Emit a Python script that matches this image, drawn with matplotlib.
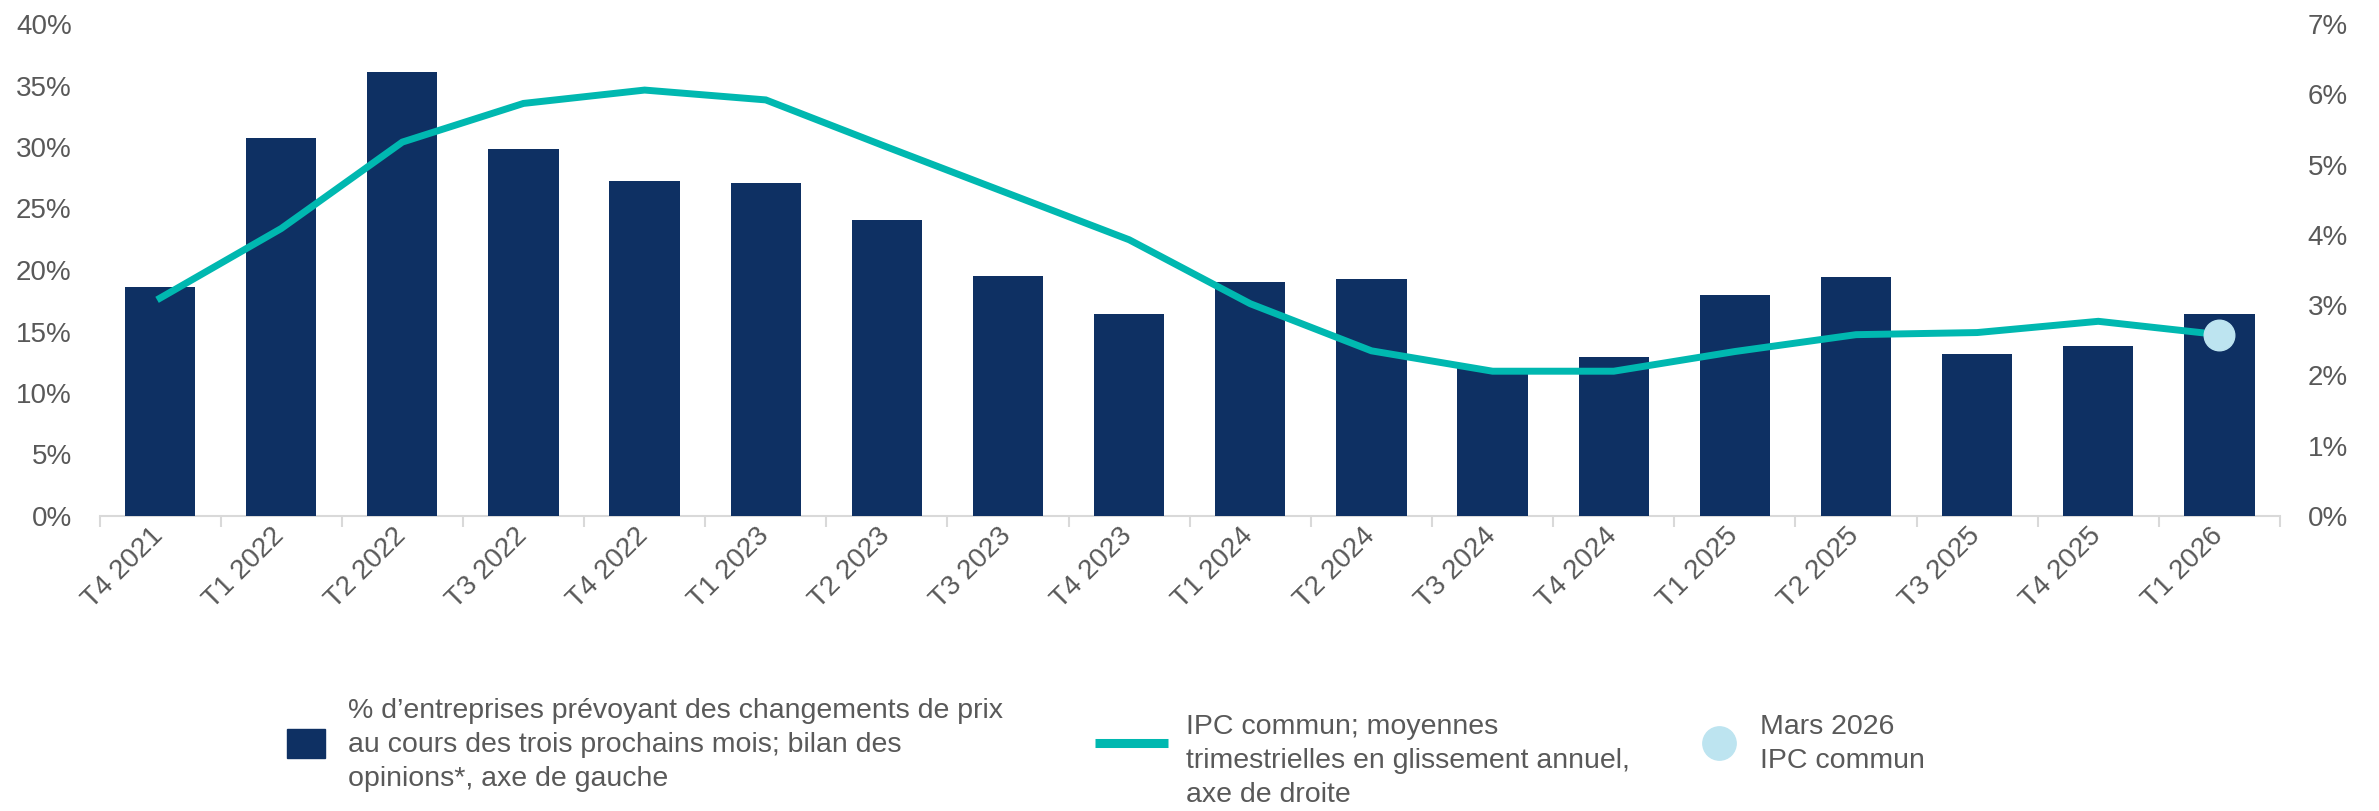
import matplotlib
matplotlib.use("Agg")
import matplotlib.pyplot as plt
import matplotlib.patches as patches
from matplotlib.lines import Line2D
from matplotlib.transforms import ScaledTranslation
from matplotlib.ticker import FuncFormatter, MultipleLocator, FixedLocator

plt.rcParams['font.family'] = ['Liberation Sans', 'DejaVu Sans']

# data
quarters = ["T4 2021", "T1 2022", "T2 2022", "T3 2022", "T4 2022", "T1 2023",
            "T2 2023", "T3 2023", "T4 2023", "T1 2024", "T2 2024", "T3 2024",
            "T4 2024", "T1 2025", "T2 2025", "T3 2025", "T4 2025", "T1 2026"]
firms_pct = [18.6, 30.7, 36.1, 29.8, 27.2, 27.1, 24.1, 19.5, 16.4, 19.0,
             19.3, 12.0, 12.9, 18.0, 19.4, 13.2, 13.8, 16.4]
ipc_pct = [3.10, 4.09, 5.32, 5.87, 6.06, 5.92, 5.25, 4.59, 3.93, 3.02,
           2.35, 2.06, 2.06, 2.34, 2.58, 2.61, 2.77, 2.58]
march_label = "T1 2026"
march_value = 2.58

NAVY = "#0e3063"
TEAL = "#00b8b0"
LIGHT = "#bde4f0"
GREY_TXT = "#595959"
AXIS_GREY = "#d9d9d9"
FS = 20
LEG_FS = 20.5

W, H = 2379, 811
fig = plt.figure(figsize=(W / 100, H / 100), dpi=100)
ax = fig.add_axes([99.5 / W, 1 - 516 / H, (2280 - 99.5) / W, (516 - 24) / H])
ax2 = ax.twinx()

x = list(range(len(quarters)))
ax.bar(x, firms_pct, width=0.58, color=NAVY, zorder=2)
ax2.plot(x, ipc_pct, color=TEAL, lw=5, solid_joinstyle='miter', zorder=3)
ax2.plot([quarters.index(march_label)], [march_value], 'o', ms=22,
         color=LIGHT, mec=LIGHT, zorder=4)

ax.set_xlim(-0.5, len(quarters) - 0.5)
ax.set_ylim(0, 40)
ax2.set_ylim(0, 7)
ax.yaxis.set_major_locator(MultipleLocator(5))
ax2.yaxis.set_major_locator(MultipleLocator(1))
pct = FuncFormatter(lambda v, p: f"{v:.0f}%")
ax.yaxis.set_major_formatter(pct)
ax2.yaxis.set_major_formatter(pct)

for a in (ax, ax2):
    for s in a.spines.values():
        s.set_visible(False)
ax.spines['bottom'].set_visible(True)
ax.spines['bottom'].set_color(AXIS_GREY)
ax.spines['bottom'].set_linewidth(1.5)
ax.spines['bottom'].set_zorder(1)

ax.tick_params(axis='y', length=0, pad=20, labelsize=FS, labelcolor=GREY_TXT)
ax2.tick_params(axis='y', length=0, pad=20, labelsize=FS, labelcolor=GREY_TXT)

ax.set_xticks(x)
ax.set_xticklabels(quarters, rotation=45, ha='right', va='top',
                   rotation_mode='anchor', fontsize=FS, color=GREY_TXT)
ax.tick_params(axis='x', which='major', length=0, pad=5)
shift = ScaledTranslation(-10 / 100, 0, fig.dpi_scale_trans)
for lab in ax.get_xticklabels():
    lab.set_transform(lab.get_transform() + shift)
ax.xaxis.set_minor_locator(FixedLocator([i - 0.5 for i in range(len(quarters) + 1)]))
ax.tick_params(axis='x', which='minor', length=8, width=1.5, color=AXIS_GREY)

# legend, drawn in figure pixels
px = lambda xx, yy: (xx / W, 1 - yy / H)
LS = 1.4
fig.add_artist(patches.Rectangle(px(287, 758), 38 / W, 29 / H,
                                 transform=fig.transFigure, color=NAVY))
fig.text(*px(348, 745), "% d\u2019entreprises prévoyant des changements de prix\n"
         "au cours des trois prochains mois; bilan des\nopinions*, axe de gauche",
         fontsize=LEG_FS, color=GREY_TXT, va='center', ha='left', linespacing=LS)

x0, y0 = px(1095, 742.5)
x1, _ = px(1168, 742.5)
fig.add_artist(Line2D([x0, x1], [y0, y0], transform=fig.transFigure,
                      color=TEAL, lw=6.5, solid_capstyle='butt'))
fig.text(*px(1186, 714), "IPC commun; moyennes\ntrimestrielles en glissement annuel,\naxe de droite",
         fontsize=LEG_FS, color=GREY_TXT, va='top', ha='left', linespacing=LS)

cx, cy = px(1719, 743)
fig.add_artist(Line2D([cx], [cy], transform=fig.transFigure, marker='o',
                      ms=24, color=LIGHT, mec=LIGHT, lw=0))
fig.text(*px(1760, 714), "Mars 2026\nIPC commun", fontsize=LEG_FS, color=GREY_TXT,
         va='top', ha='left', linespacing=LS)

fig.savefig("out.png", dpi=100)
